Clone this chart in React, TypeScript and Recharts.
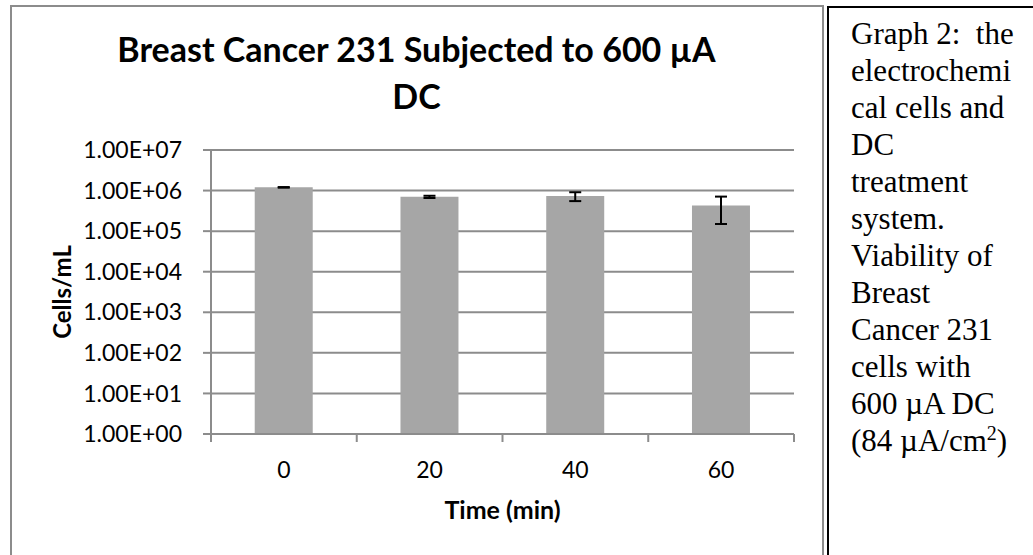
import React from "react";
import {
  BarChart,
  Bar,
  XAxis,
  YAxis,
  CartesianGrid,
  ErrorBar,
  Label,
} from "recharts";

const times = ["0", "20", "40", "60"];
const cells = [1.2e6, 7.0e5, 7.3e5, 4.3e5];
const errors = [2e4, 4.5e4, 1.8e5, 2.8e5];
const yTicks = [1, 1e1, 1e2, 1e3, 1e4, 1e5, 1e6, 1e7];

const captionLines = [
  "Graph 2:  the",
  "electrochemi",
  "cal cells and",
  "DC",
  "treatment",
  "system.",
  "Viability of",
  "Breast",
  "Cancer 231",
  "cells with",
  "600 \u00b5A DC",
];

const data = times.map((t, i) => ({ time: t, cells: cells[i], err: errors[i] }));

const GRID = "#8c8c8c";
const FONT = "Lato, 'Open Sans', sans-serif";

const sciLabel = (v: number) => {
  const [m, e] = v.toExponential(2).split("e");
  return `${m}E${e[0]}${e.slice(1).padStart(2, "0")}`;
};

const TimeTick = ({ x, y, payload, index }: any) => {
  const half = payload?.offset || 72.875;
  return (
    <g>
      <line x1={x - half} y1={y} x2={x - half} y2={y + 8} stroke={GRID} strokeWidth={2} />
      {index === times.length - 1 && (
        <line x1={x + half} y1={y} x2={x + half} y2={y + 8} stroke={GRID} strokeWidth={2} />
      )}
      <text x={x} y={y + 44} textAnchor="middle" fontSize={23} fontFamily={FONT} fill="#000">
        {payload.value}
      </text>
    </g>
  );
};

const CellsLabel = () => (
  <text
    x={61}
    y={292}
    transform="rotate(-90, 61, 292)"
    textAnchor="middle"
    dominantBaseline="central"
    fontSize={24}
    fontWeight="bold"
    fontFamily={FONT}
    fill="#000"
  >
    Cells/mL
  </text>
);

export default function App() {
  return (
    <div style={{ position: "absolute", left: 0, top: 0, width: 1033, height: 555, overflow: "hidden", background: "#fff" }}>
      <div
        style={{
          position: "absolute",
          left: 10,
          top: 5,
          width: 814,
          height: 600,
          border: `2px solid ${GRID}`,
          boxSizing: "border-box",
        }}
      />
      <div
        style={{
          position: "absolute",
          left: 0,
          top: 25,
          width: 833,
          textAlign: "center",
          fontFamily: FONT,
          fontWeight: "bold",
          fontSize: 34,
          lineHeight: "47px",
        }}
      >
        <div>Breast Cancer 231 Subjected to 600 {"\u00b5"}A</div>
        <div>DC</div>
      </div>
      <div style={{ position: "absolute", left: 0, top: 0 }}>
        <BarChart
          width={1033}
          height={555}
          data={data}
          margin={{ top: 150, right: 239, bottom: 91, left: 0 }}
          barCategoryGap="30%"
        >
          <CartesianGrid vertical={false} stroke={GRID} strokeWidth={2} />
          <XAxis
            dataKey="time"
            height={30}
            axisLine={{ stroke: GRID, strokeWidth: 2 }}
            tickLine={false}
            tickSize={0}
            tickMargin={0}
            tick={<TimeTick />}
            interval={0}
          >
            <Label
              value="Time (min)"
              position="bottom"
              offset={37}
              fontSize={25}
              fontWeight="bold"
              fontFamily={FONT}
              fill="#000"
            />
          </XAxis>
          <YAxis
            width={211}
            scale="log"
            domain={[1, 1e7]}
            ticks={yTicks}
            allowDataOverflow
            interval={0}
            tickFormatter={sciLabel}
            axisLine={{ stroke: GRID, strokeWidth: 2 }}
            tickLine={{ stroke: GRID, strokeWidth: 2 }}
            tickSize={8}
            tickMargin={21}
            tick={{ fontSize: 23, fontFamily: FONT, fill: "#000" }}
            label={<CellsLabel />}
          />
          <Bar dataKey="cells" fill="#a6a6a6" isAnimationActive={false}>
            <ErrorBar dataKey="err" width={6} strokeWidth={2} stroke="#000" direction="y" />
          </Bar>
        </BarChart>
      </div>
      <div
        style={{
          position: "absolute",
          left: 827,
          top: 6,
          width: 220,
          height: 600,
          borderLeft: "2px solid #000",
          borderTop: "2px solid #000",
          boxSizing: "border-box",
          paddingLeft: 22,
          paddingTop: 7,
          fontFamily: "'Liberation Serif', 'Times New Roman', serif",
          fontSize: 31,
          lineHeight: "37px",
          color: "#000",
          whiteSpace: "pre",
        }}
      >
        {captionLines.map((l) => (
          <div key={l}>{l}</div>
        ))}
        <div>
          (84 {"\u00b5"}A/cm<sup style={{ fontSize: 20, lineHeight: 0 }}>2</sup>)
        </div>
      </div>
    </div>
  );
}
